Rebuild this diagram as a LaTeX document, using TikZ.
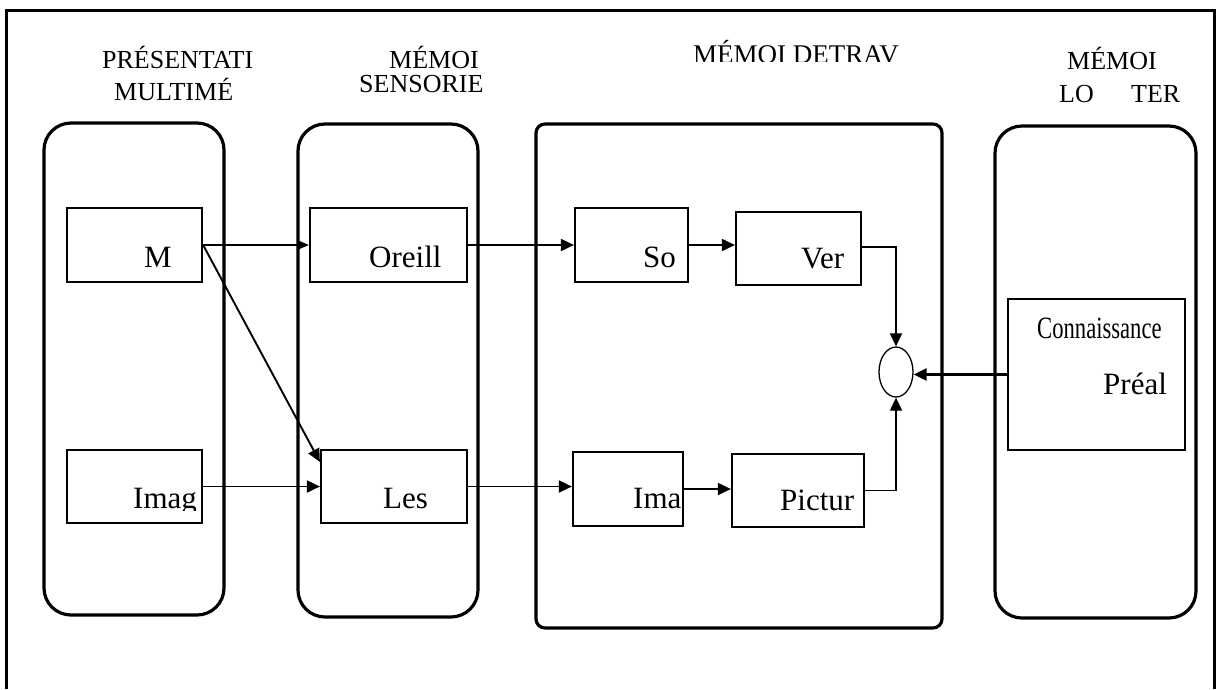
\documentclass[tikz,border=0pt]{standalone}
\usepackage{fontspec}
\setmainfont{Liberation Serif}
\usetikzlibrary{arrows.meta,shapes.geometric,calc}
\tikzset{
  col/.style={draw, line width=3.2pt, rounded corners=27pt, inner sep=0pt},
  colsq/.style={draw, line width=3.2pt, rounded corners=9pt, inner sep=0pt},
  box/.style={draw, line width=2.2pt, inner sep=0pt},
  head/.style={inner sep=0pt, anchor=base west, font=\fontsize{26}{26}\selectfont},
  btxt/.style={inner sep=0pt, anchor=base west, font=\fontsize{31}{31}\selectfont},
  arr/.style={line width=1.9pt, -{Triangle[length=13pt,width=12pt]}},
  arrs/.style={line width=1.7pt, -{Triangle[length=11pt,width=9pt]}},
}
\begin{document}
\begin{tikzpicture}[x=1pt,y=-1pt]
\useasboundingbox (0,0) rectangle (1218,689);
% outer frame (open at the bottom)
\draw[line width=3pt] (6,689) -- (6,10) -- (1214,10) -- (1214,689);

% columns
\node[col, minimum width=180pt, minimum height=492pt] (c1) at (134,369) {};
\node[col, minimum width=180pt, minimum height=493pt] (c2) at (388,370.5) {};
\node[colsq, minimum width=406pt, minimum height=504pt] (c3) at (739,376) {};
\node[col, minimum width=201pt, minimum height=492pt] (c4) at (1095.5,372) {};

% headers
\node[head] (h1a) at (102,68) {PRÉSENTATI};
\node[head] (h1b) at (114,100) {MULTIMÉ};
\node[head] (h2a) at (389,68) {MÉMOI};
\node[head] (h2b) at (359,92) {SENSORIE};
\begin{scope}
  \clip (600,20) rectangle (950,61);
  \node[head, font=\fontsize{27}{27}\selectfont] (h3) at (693,63) {MÉMOI DETRAV};
\end{scope}
\node[head] (h4a) at (1067,69) {MÉMOI};
\node[head] (h4b) at (1059,102) {LO};
\node[head] (h4c) at (1131,102) {TER};

% inner boxes
\node[box, minimum width=135pt, minimum height=74pt] (m) at (134.5,245) {};
\node[box, minimum width=135pt, minimum height=73pt] (imag) at (134.5,486.5) {};
\node[box, minimum width=157pt, minimum height=74pt] (ore) at (388.5,245) {};
\node[box, minimum width=146pt, minimum height=73pt] (les) at (394,486.5) {};
\node[box, minimum width=113pt, minimum height=74pt] (so) at (631.5,245) {};
\node[box, minimum width=125pt, minimum height=73pt] (ver) at (798.5,248.5) {};
\node[box, minimum width=110pt, minimum height=74pt] (ima) at (628,489) {};
\node[box, minimum width=132pt, minimum height=73pt] (pic) at (798,490.5) {};
\node[box, minimum width=177pt, minimum height=151pt] (conn) at (1096.5,374.5) {};
\node[draw, ellipse, line width=1.3pt, minimum width=34pt, minimum height=50pt, inner sep=0pt] (e) at (896,372) {};

% box texts
\node[btxt] (tm) at (144,267) {M};
\begin{scope}
  \clip (60,440) rectangle (210,510);
  \node[btxt] (timag) at (133,508) {Imag};
\end{scope}
\node[btxt] (tore) at (369,267) {Oreill};
\node[btxt] (tles) at (383,508) {Les};
\node[btxt] (tso) at (643,267) {So};
\node[btxt] (tver) at (801,268) {Ver};
\node[btxt] (tima) at (633,508) {Ima};
\node[btxt] (tpic) at (780,510) {Pictur};
\node[btxt] (tconn) at (1037,338) {\scalebox{0.73}[1]{Connaissance}};
\node[btxt] (tpre) at (1103,394) {Préal};

% connectors
\draw[arrs] (m.east) -- (ore.west);
\draw[arr] (m.east) -- ([yshift=-13pt]les.north west);
\draw[arr] (imag.east) -- (les.west);
\draw[arr] (ore.east) -- (ore.east -| so.west);
\draw[arr] (les.east) -- (les.east -| ima.west);
\draw[arr] (so.east) -- (so.east -| ver.west);
\draw[arr] (ima.east) -- (ima.east -| pic.west);
\draw[arr, line width=1.4pt] ([yshift=1.5pt]ver.east) -| (e.north);
\draw[arr, line width=1.3pt] (pic.east) -| (e.south);
\draw[arr, line width=2.4pt] (conn.west) -- (conn.west -| e.east);
\end{tikzpicture}
\end{document}
